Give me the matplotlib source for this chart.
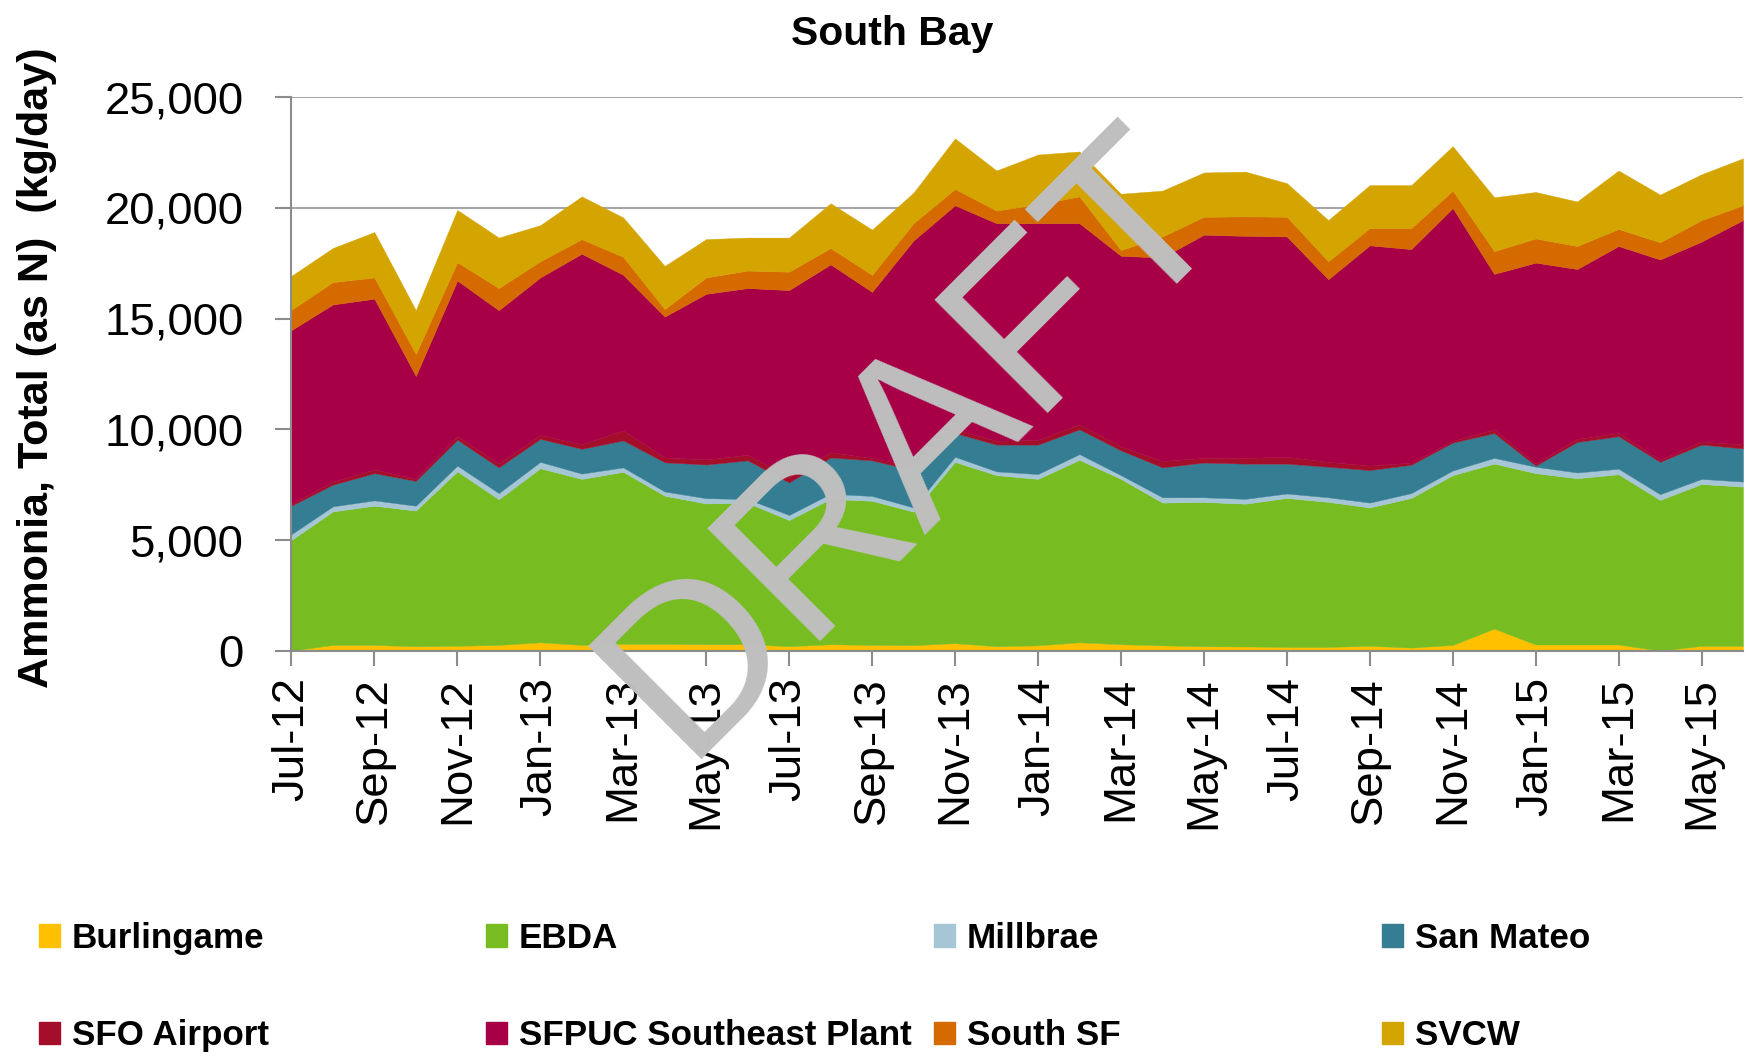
import matplotlib
matplotlib.use("Agg")
import matplotlib.pyplot as plt
from matplotlib import font_manager
from matplotlib.patches import Patch

months = ["Jul-12", "Aug-12", "Sep-12", "Oct-12", "Nov-12", "Dec-12",
          "Jan-13", "Feb-13", "Mar-13", "Apr-13", "May-13", "Jun-13",
          "Jul-13", "Aug-13", "Sep-13", "Oct-13", "Nov-13", "Dec-13",
          "Jan-14", "Feb-14", "Mar-14", "Apr-14", "May-14", "Jun-14",
          "Jul-14", "Aug-14", "Sep-14", "Oct-14", "Nov-14", "Dec-14",
          "Jan-15", "Feb-15", "Mar-15", "Apr-15", "May-15", "Jun-15"]

# kg/day per plant, stacked bottom -> top
burlingame = [0, 260, 260, 200, 220, 260, 380, 260, 310, 310, 290, 290,
              200, 290, 260, 250, 340, 200, 240, 380, 290, 240, 200, 190,
              170, 170, 220, 140, 260, 1000, 280, 280, 280, 0, 220, 220]
ebda = [5000, 6030, 6290, 6130, 7880, 6580, 7860, 7500, 7770, 6690, 6360, 6390,
        5700, 6570, 6510, 6030, 8190, 7730, 7520, 8240, 7470, 6450, 6520, 6450,
        6730, 6550, 6250, 6760, 7670, 7450, 7740, 7510, 7690, 6810, 7310, 7190]
millbrae = [260, 230, 240, 220, 260, 280, 290, 240, 200, 190, 240, 170,
            230, 230, 220, 190, 230, 170, 220, 260, 170, 240, 210, 220,
            200, 210, 220, 220, 210, 260, 290, 260, 250, 260, 230, 230]
san_mateo = [1290, 980, 1230, 1120, 1170, 1160, 1040, 1120, 1220, 1320, 1520, 1750,
             1470, 1640, 1610, 1680, 1070, 1210, 1330, 1120, 1120, 1350, 1570, 1590,
             1350, 1380, 1470, 1280, 1260, 1120, 50, 1380, 1470, 1460, 1550, 1500]
sfo = [90, 140, 170, 90, 160, 170, 170, 210, 450, 220, 230, 250,
       250, 240, 100, 200, 170, 170, 220, 220, 170, 290, 210, 260,
       310, 220, 200, 100, 80, 170, 90, 140, 140, 90, 140, 170]
sfpuc = [7840, 8000, 7710, 4650, 7030, 6930, 7120, 8600, 7030, 6360, 7480, 7530,
         8440, 8480, 7510, 10180, 10120, 9830, 9780, 9090, 8620, 9190, 10080, 10030,
         9950, 8250, 9950, 9640, 10520, 7020, 9080, 7670, 8450, 9050, 9030, 10140]
south_sf = [920, 1010, 960, 990, 830, 1000, 730, 660, 810, 340, 740, 790,
            830, 740, 770, 780, 740, 570, 860, 1210, 260, 950, 810, 880,
            890, 810, 780, 950, 780, 1030, 1090, 1040, 770, 780, 970, 670]
svcw = [1530, 1540, 2050, 1980, 2360, 2280, 1630, 1930, 1780, 1950, 1730, 1490,
        1540, 2020, 2040, 1380, 2280, 1810, 2240, 2030, 2540, 2070, 2000, 2020,
        1520, 1860, 1940, 1940, 2010, 2430, 2100, 2010, 2640, 2150, 2070, 2120]

labels = ["Burlingame", "EBDA", "Millbrae", "San Mateo", "SFO Airport",
          "SFPUC Southeast Plant", "South SF", "SVCW"]
colors = ["#FFC000", "#77BC21", "#A6C6D6", "#347D93", "#A50E2A",
          "#A80046", "#D46A00", "#D4A400"]

# the original uses a narrow font; use one if installed, else shrink Liberation Sans
installed = {f.name for f in font_manager.fontManager.ttflist}
narrow = None
for cand in ["Liberation Sans Narrow", "Arial Narrow"]:
    if cand in installed:
        narrow = cand
        break
if narrow:
    fam = [narrow, "DejaVu Sans"]
    k = 1.0
else:
    fam = ["Liberation Sans", "DejaVu Sans"]
    k = 0.84
regular = ["Liberation Sans", "DejaVu Sans"]

fig = plt.figure(figsize=(17.5, 10.57), dpi=100)
ax = fig.add_axes([0.1665, 0.3844, 0.8295, 0.5236])

x = list(range(len(months)))
polys = ax.stackplot(x, burlingame, ebda, millbrae, san_mateo, sfo, sfpuc,
                     south_sf, svcw, colors=colors, labels=labels, zorder=2)
for p, c in zip(polys, colors):
    p.set_edgecolor(c)
    p.set_linewidth(0.3)

ax.set_xlim(0, len(months) - 1)
ax.set_ylim(0, 25000)
ax.set_yticks(range(0, 25001, 5000))
ax.set_yticklabels([f"{v:,}" for v in range(0, 25001, 5000)])
ax.set_xticks(x[::2])
ax.set_xticklabels(months[::2], rotation=90)

ax.grid(axis="y", color="#A6A6A6", linewidth=1.5, zorder=0)
ax.set_axisbelow(True)
for s in ["top", "right"]:
    ax.spines[s].set_visible(False)
for s in ["left", "bottom"]:
    ax.spines[s].set_color("#8C8C8C")
    ax.spines[s].set_linewidth(1.5)
    ax.spines[s].set_zorder(3)

ax.tick_params(axis="y", direction="out", length=11.5, width=1.5,
               color="#8C8C8C", pad=23)
ax.tick_params(axis="x", direction="out", length=11, width=1.5,
               color="#8C8C8C", pad=8)
for t in ax.get_yticklabels() + ax.get_xticklabels():
    t.set_family(fam)
    t.set_fontsize(39 * k)

fig.text(0.51, 0.957, "South Bay", ha="center", va="baseline",
         fontsize=35 * k, fontweight="bold", family=fam)
fig.text(0.021, 0.652, "Ammonia, Total (as N)  (kg/day)", rotation=90,
         ha="center", va="center", fontsize=37 * k, fontweight="bold", family=fam)

# legend: 4 columns, 2 rows
leg_size = 30 * k
fpx = leg_size * 100 / 72
col_x = [39, 486, 934, 1382]
for i, cx in enumerate(col_x):
    h = [Patch(color=colors[i]), Patch(color=colors[i + 4])]
    fig.legend(h, [labels[i], labels[i + 4]], loc="center left",
               bbox_to_anchor=(cx / 1750, 1 - 987 / 1057),
               frameon=False, borderpad=0, borderaxespad=0,
               handlelength=21 / fpx, handleheight=22 / fpx,
               handletextpad=12 / fpx,
               labelspacing=(96 - 0.9 * fpx) / fpx,
               prop={"family": fam, "weight": "bold", "size": leg_size})

fig.text(0.522, 0.581, "DRAFT", rotation=45, ha="center", va="center",
         fontsize=167, color="#BFBFBF", family=regular)

fig.savefig("out.png", dpi=100)
